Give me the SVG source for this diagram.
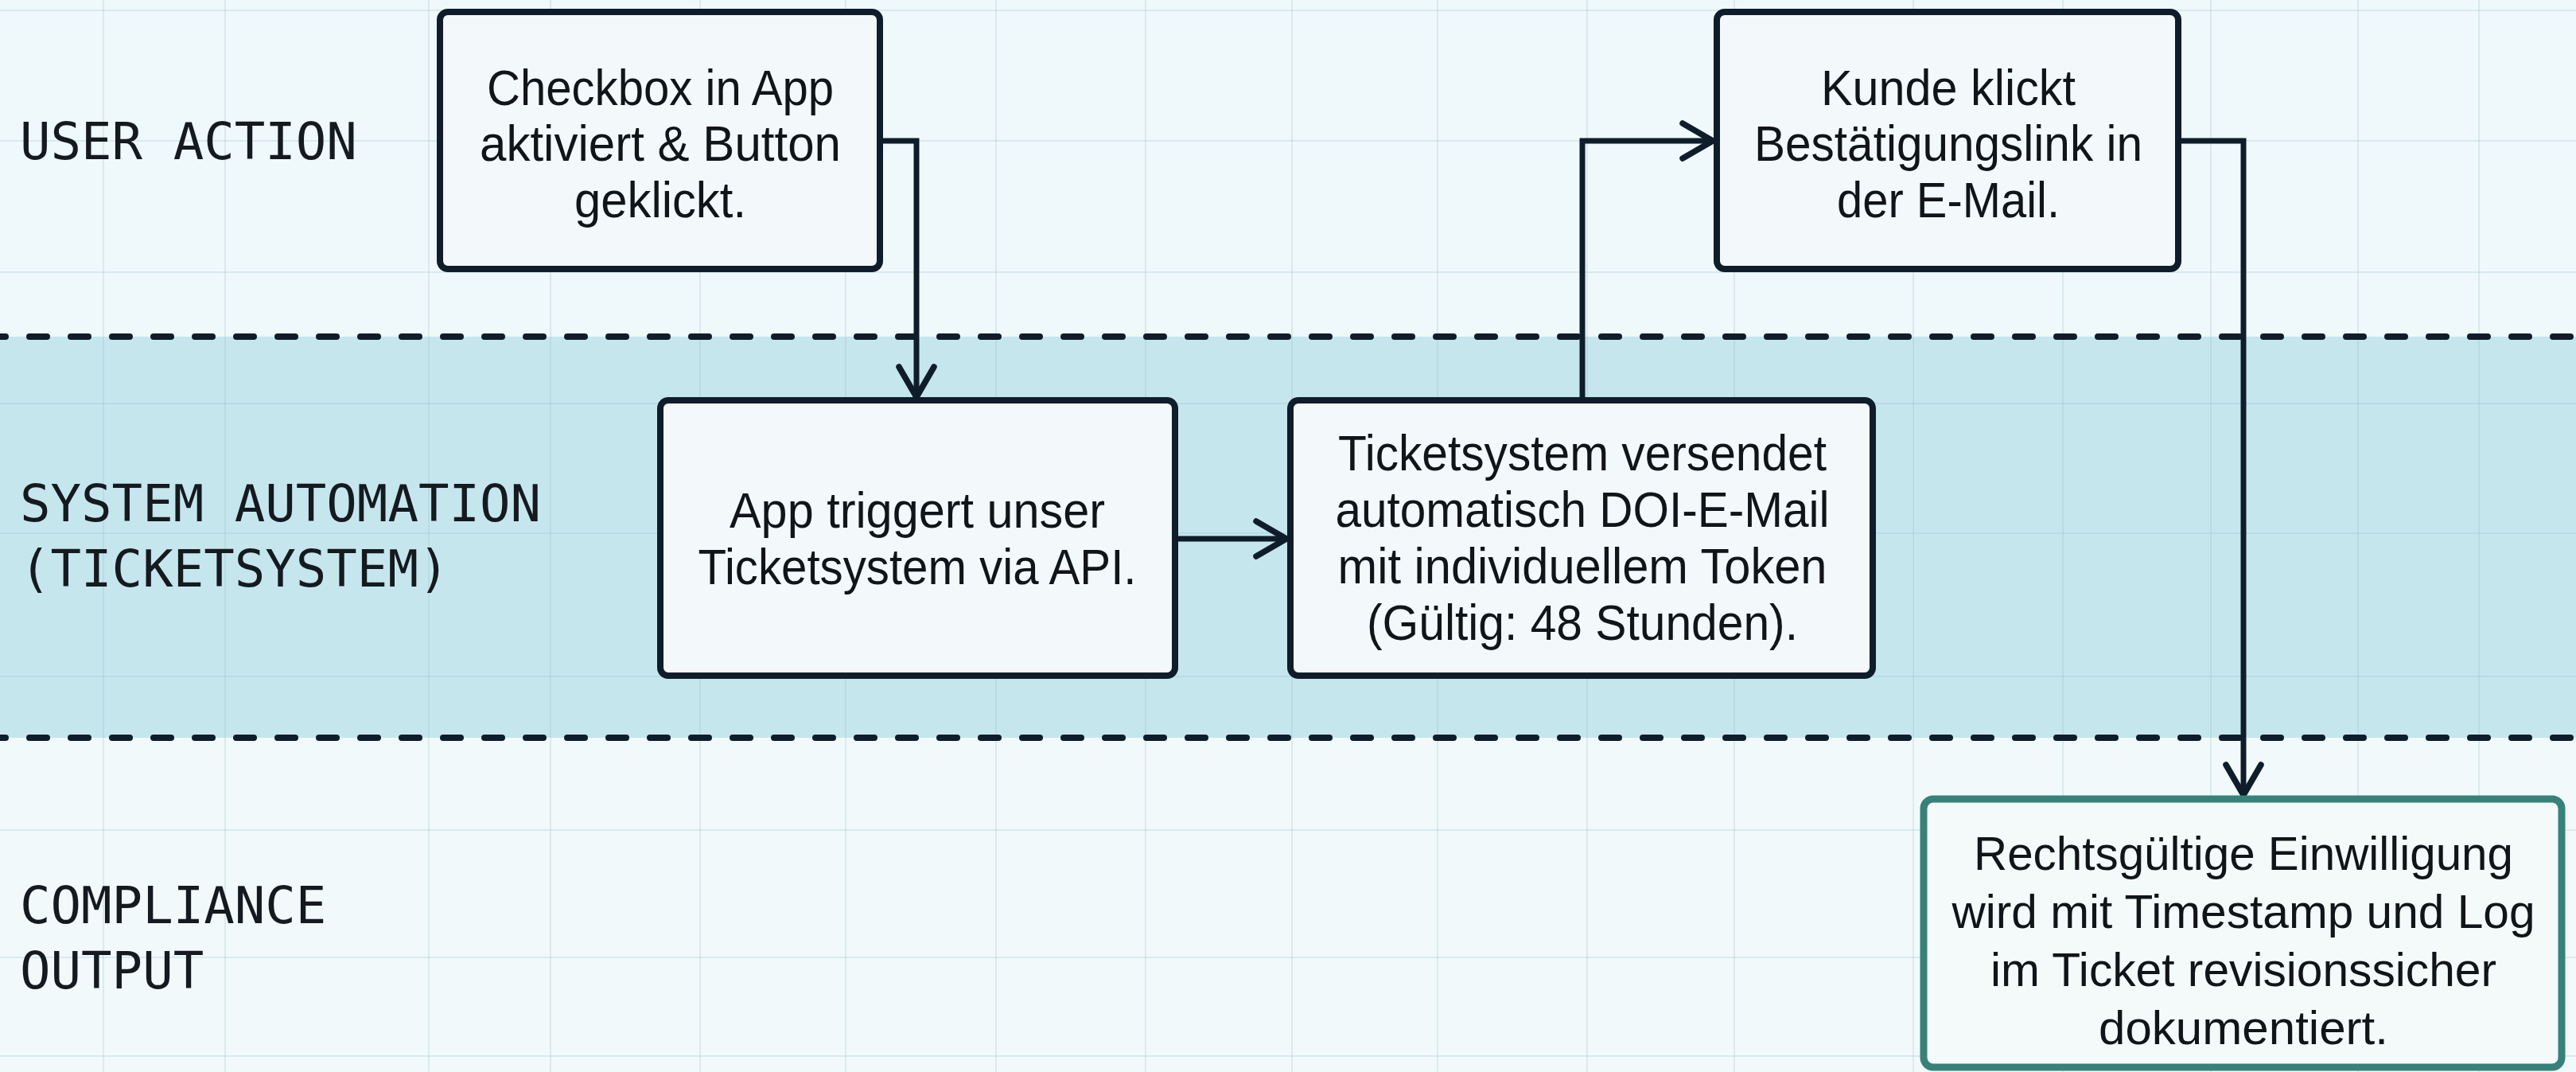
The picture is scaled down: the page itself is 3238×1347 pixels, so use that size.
<svg xmlns="http://www.w3.org/2000/svg" width="3238" height="1347" viewBox="0 0 3238 1347">
  <style>
    .grid { stroke: #8fb4c0; stroke-opacity: 0.22; stroke-width: 2; fill: none; }
    .lane-sep { stroke: #0f1d2b; stroke-width: 8; stroke-dasharray: 22 30; stroke-dashoffset: 15; stroke-linecap: round; fill: none; }
    .lane-label { font-family: "DejaVu Sans Mono", "Liberation Mono", monospace; font-size: 64px; fill: #141a20; }
    .node rect { fill: #f3f8fa; stroke: #0f1d2b; stroke-width: 8; }
    .node.out rect { fill: #f4f9fa; stroke: #378278; stroke-width: 9; }
    .node text { font-family: "Liberation Sans", Arial, sans-serif; font-size: 63px; fill: #111418; text-anchor: middle; }
    .node.out text { font-size: 60px; }
    .conn path { fill: none; stroke: #0f1d2b; stroke-width: 7; stroke-linejoin: miter; }
  </style>
  <defs>
    <marker id="chev" markerUnits="userSpaceOnUse" viewBox="-46 -28 52 56" refX="0" refY="0" markerWidth="52" markerHeight="56" orient="auto" overflow="visible">
      <path d="M -38 -22 L 0 0 L -38 22" fill="none" stroke="#0f1d2b" stroke-width="7.5" stroke-linecap="round" stroke-linejoin="round"/>
    </marker>
  </defs>

  <!-- backgrounds -->
  <rect x="0" y="0" width="3238" height="1347" fill="#eff8fa"/>
  <rect x="0" y="423" width="3238" height="504" fill="#c6e6ee"/>
  <rect x="0" y="927" width="3238" height="420" fill="#f1f9fa"/>

  <!-- grid -->
  <g id="grid" class="grid">
    <line x1="130" y1="0" x2="130" y2="1347"/>
    <line x1="283" y1="0" x2="283" y2="1347"/>
    <line x1="539" y1="0" x2="539" y2="1347"/>
    <line x1="692" y1="0" x2="692" y2="1347"/>
    <line x1="880" y1="0" x2="880" y2="1347"/>
    <line x1="1063" y1="0" x2="1063" y2="1347"/>
    <line x1="1252" y1="0" x2="1252" y2="1347"/>
    <line x1="1440" y1="0" x2="1440" y2="1347"/>
    <line x1="1624" y1="0" x2="1624" y2="1347"/>
    <line x1="1807" y1="0" x2="1807" y2="1347"/>
    <line x1="1995" y1="0" x2="1995" y2="1347"/>
    <line x1="2180" y1="0" x2="2180" y2="1347"/>
    <line x1="2405" y1="0" x2="2405" y2="1347"/>
    <line x1="2593" y1="0" x2="2593" y2="1347"/>
    <line x1="2779" y1="0" x2="2779" y2="1347"/>
    <line x1="2964" y1="0" x2="2964" y2="1347"/>
    <line x1="3116" y1="0" x2="3116" y2="1347"/>
    <line x1="0" y1="13" x2="3238" y2="13"/>
    <line x1="0" y1="177" x2="3238" y2="177"/>
    <line x1="0" y1="342" x2="3238" y2="342"/>
    <line x1="0" y1="507" x2="3238" y2="507"/>
    <line x1="0" y1="670" x2="3238" y2="670"/>
    <line x1="0" y1="850" x2="3238" y2="850"/>
    <line x1="0" y1="1043" x2="3238" y2="1043"/>
    <line x1="0" y1="1203" x2="3238" y2="1203"/>
    <line x1="0" y1="1327" x2="3238" y2="1327"/>
  </g>

  <!-- lane separators -->
  <g id="lanes">
    <line class="lane-sep" x1="0" y1="423" x2="3238" y2="423"/>
    <line class="lane-sep" x1="0" y1="927" x2="3238" y2="927"/>
    <text class="lane-label" x="25" y="200">USER ACTION</text>
    <text class="lane-label" x="25" y="655">SYSTEM AUTOMATION</text>
    <text class="lane-label" x="25" y="737">(TICKETSYSTEM)</text>
    <text class="lane-label" x="25" y="1160">COMPLIANCE</text>
    <text class="lane-label" x="25" y="1242">OUTPUT</text>
  </g>

  <!-- connectors -->
  <g id="connectors" class="conn">
    <path d="M 1106 177 H 1152 V 499" marker-end="url(#chev)"/>
    <path d="M 1477 677 H 1617" marker-end="url(#chev)"/>
    <path d="M 1989 503 V 177 H 2153" marker-end="url(#chev)"/>
    <path d="M 2738 177 H 2820 V 999" marker-end="url(#chev)"/>
  </g>

  <!-- nodes -->
  <g id="node-checkbox" class="node">
    <rect x="553" y="15" width="553" height="323" rx="10"/>
    <text x="830" y="132" textLength="436" lengthAdjust="spacingAndGlyphs">Checkbox in App</text>
    <text x="830" y="202" textLength="454" lengthAdjust="spacingAndGlyphs">aktiviert &amp; Button</text>
    <text x="830" y="273" textLength="216" lengthAdjust="spacingAndGlyphs">geklickt.</text>
  </g>

  <g id="node-api" class="node">
    <rect x="830" y="503" width="647" height="346" rx="10"/>
    <text x="1153" y="663" textLength="472" lengthAdjust="spacingAndGlyphs">App triggert unser</text>
    <text x="1153" y="734" textLength="551" lengthAdjust="spacingAndGlyphs">Ticketsystem via API.</text>
  </g>

  <g id="node-doi" class="node">
    <rect x="1622" y="503" width="732" height="346" rx="10"/>
    <text x="1989" y="591" textLength="614" lengthAdjust="spacingAndGlyphs">Ticketsystem versendet</text>
    <text x="1989" y="662" textLength="621" lengthAdjust="spacingAndGlyphs">automatisch DOI-E-Mail</text>
    <text x="1989" y="733" textLength="615" lengthAdjust="spacingAndGlyphs">mit individuellem Token</text>
    <text x="1989" y="804" textLength="542" lengthAdjust="spacingAndGlyphs">(Gültig: 48 Stunden).</text>
  </g>

  <g id="node-link" class="node">
    <rect x="2158" y="15" width="580" height="323" rx="10"/>
    <text x="2449" y="132" textLength="320" lengthAdjust="spacingAndGlyphs">Kunde klickt</text>
    <text x="2449" y="202" textLength="488" lengthAdjust="spacingAndGlyphs">Bestätigungslink in</text>
    <text x="2449" y="273" textLength="280" lengthAdjust="spacingAndGlyphs">der E-Mail.</text>
  </g>

  <g id="node-compliance" class="node out">
    <rect x="2418" y="1004" width="802" height="337" rx="12"/>
    <text x="2820" y="1093" textLength="678" lengthAdjust="spacingAndGlyphs">Rechtsgültige Einwilligung</text>
    <text x="2820" y="1166" textLength="733" lengthAdjust="spacingAndGlyphs">wird mit Timestamp und Log</text>
    <text x="2820" y="1239" textLength="636" lengthAdjust="spacingAndGlyphs">im Ticket revisionssicher</text>
    <text x="2820" y="1312" textLength="364" lengthAdjust="spacingAndGlyphs">dokumentiert.</text>
  </g>
</svg>
